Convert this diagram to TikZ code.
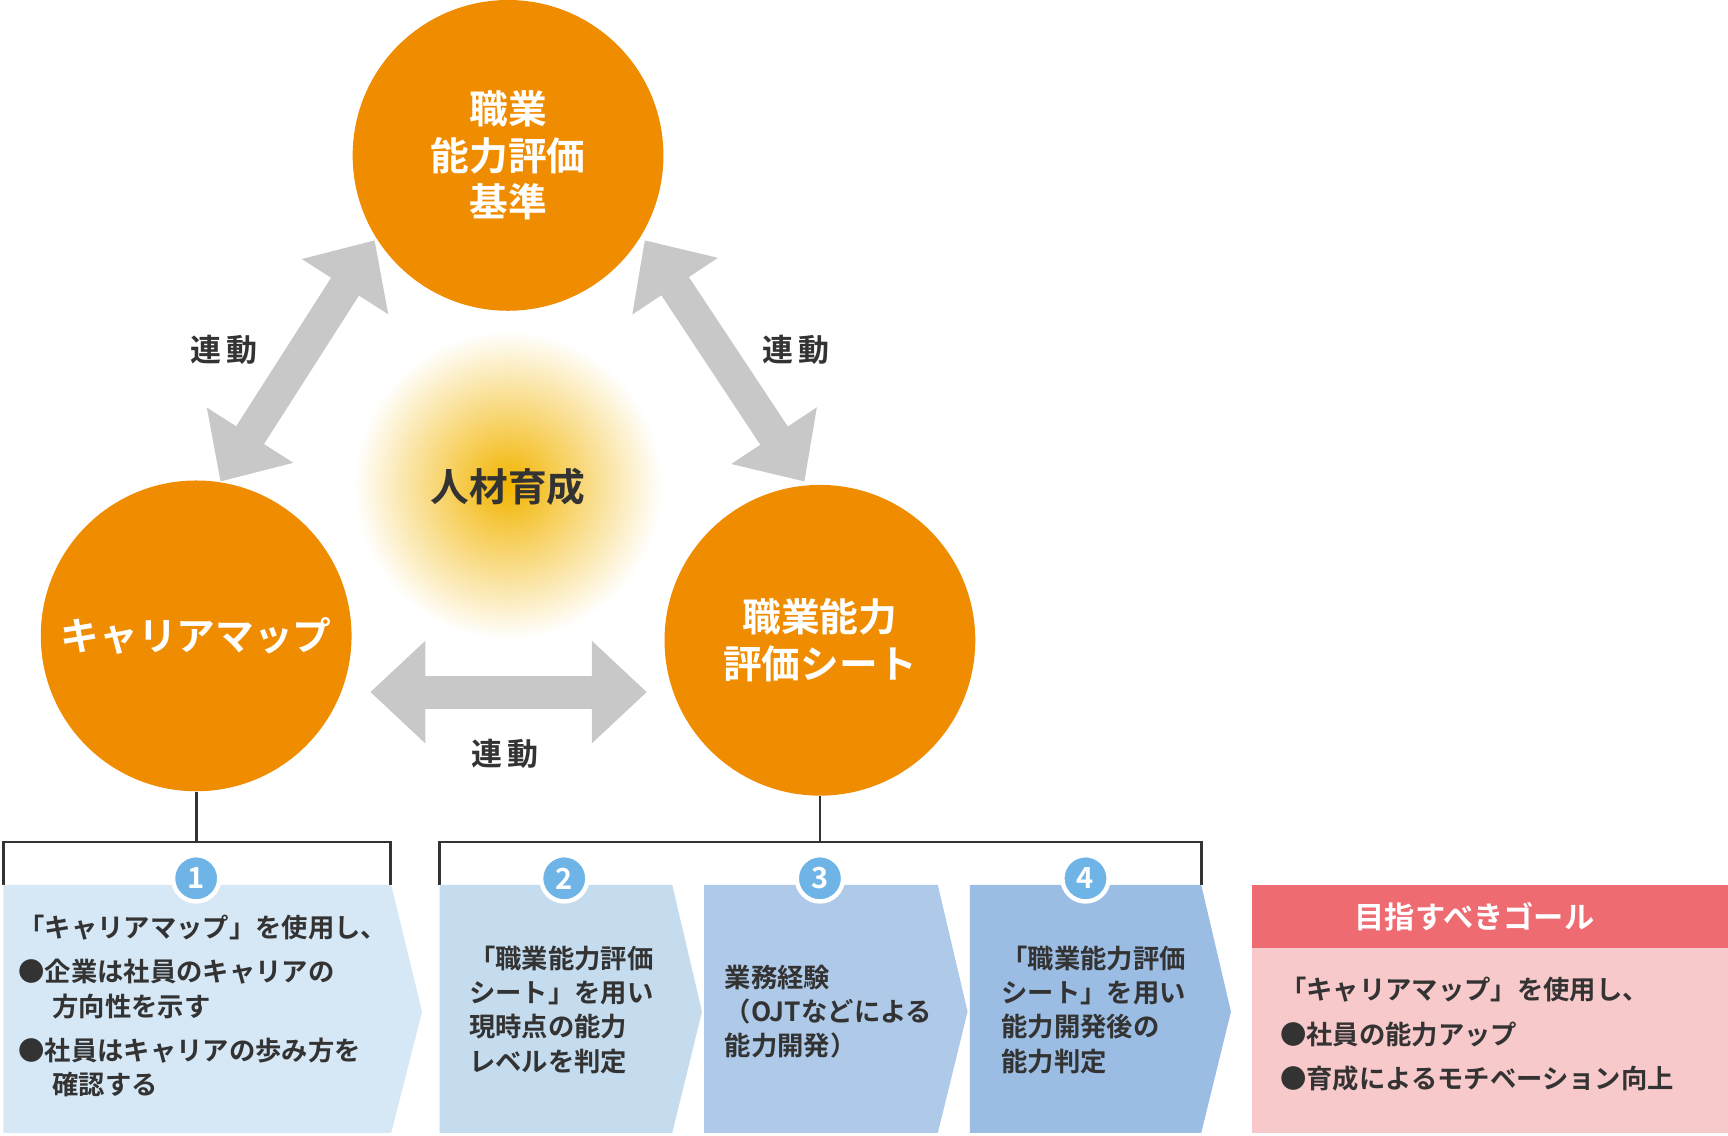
\documentclass[tikz,border=0pt]{standalone}
\usepackage{fontspec}
\setmainfont{Noto Sans CJK JP}[BoldFont={Noto Sans CJK JP Bold}]
\usetikzlibrary{arrows.meta, positioning}
\definecolor{orangec}{HTML}{F08C00}
\definecolor{glowc}{HTML}{F2B400}
\definecolor{grayarr}{HTML}{C8C8C8}
\definecolor{numc}{HTML}{6EB4E6}
\definecolor{boxa}{HTML}{D6E8F6}
\definecolor{boxb}{HTML}{C4DCEE}
\definecolor{boxc}{HTML}{AECAE8}
\definecolor{boxd}{HTML}{9BBCE3}
\definecolor{goalhead}{HTML}{EE6B72}
\definecolor{goalbody}{HTML}{F8C9CB}
\definecolor{textc}{HTML}{333333}

\begin{document}
\begin{tikzpicture}[
    x=0.1mm, y=-0.1mm,
    bigcircle/.style={circle, fill=orangec, minimum size=28.2mm, inner sep=0pt, text=white, align=center, font=\fontsize{10}{12}\selectfont\bfseries},
    link/.style={{Triangle[length=5mm,width=9mm]}-{Triangle[length=5mm,width=9mm]}, line width=3mm, draw=grayarr},
    linklabel/.style={text=textc, font=\fontsize{8}{9}\selectfont\bfseries},
    num/.style={circle, fill=numc, draw=white, line width=0.4mm, minimum size=4.2mm, inner sep=0pt, text=white, font=\fontsize{7.5}{8}\selectfont\bfseries},
    steptext/.style={anchor=north west, align=left, text=textc, inner sep=0pt, font=\fontsize{6.8}{8.8}\selectfont\bfseries},
    bracket/.style={draw=textc, line width=0.25mm}
]
\useasboundingbox (0,0) rectangle (1568,1030);

% Glow in the centre
\shade[inner color=glowc, outer color=white] (461,440) circle (140);
\node[text=textc, font=\fontsize{10}{12}\selectfont\bfseries] (core) at (461,442) {人材育成};

% Three pillars
\node[bigcircle] (standard) at (461,141) {職業\\能力評価\\基準};
\node[bigcircle] (map) at (178,577) {キャリアマップ};
\node[bigcircle] (sheet) at (744,581) {職業能力\\評価シート};

% Links
\coordinate (l1) at (200,437);
\coordinate (l2) at (340,218);
\coordinate (r1) at (585,218);
\coordinate (r2) at (730,437);
\coordinate (b1) at (336,628);
\coordinate (b2) at (587,628);
\draw[link] (l1) -- (l2);
\draw[link] (r1) -- (r2);
\draw[link] (b1) -- (b2);
\node[linklabel] (lab1) at (203,317) {連\,動};
\node[linklabel] (lab2) at (722,317) {連\,動};
\node[linklabel] (lab3) at (458,684) {連\,動};

% Brackets
\coordinate (mapfoot) at (178,764);
\coordinate (sheetfoot) at (744,764);
\draw[bracket] (map.south) -- (mapfoot);
\draw[bracket] (3,803) -- (3,764) -- (354,764) -- (354,803);
\draw[bracket] (sheet.south) -- (sheetfoot);
\draw[bracket] (399,803) -- (399,764) -- (1090,764) -- (1090,803);

% Step chevrons
\fill[boxa] (3,803) -- (355,803) -- (383,918) -- (355,1028) -- (3,1028) -- cycle;
\fill[boxb] (399,803) -- (610,803) -- (637,918) -- (610,1028) -- (399,1028) -- cycle;
\fill[boxc] (639,803) -- (851,803) -- (878,918) -- (851,1028) -- (639,1028) -- cycle;
\fill[boxd] (880,803) -- (1090,803) -- (1117,918) -- (1090,1028) -- (880,1028) -- cycle;

\node[num] (n1) at (178,797) {1};
\node[num] (n2) at (512,797) {2};
\node[num] (n3) at (744,797) {3};
\node[num] (n4) at (985,797) {4};

\node[steptext] (t1) at (16,830) {「キャリアマップ」を使用し、\\[0.9mm]●企業は社員のキャリアの\\\hspace{1.3em}方向性を示す\\[0.9mm]●社員はキャリアの歩み方を\\\hspace{1.3em}確認する};
\node[steptext] (t2) at (425,858) {「職業能力評価\\シート」を用い\\現時点の能力\\レベルを判定};
\node[steptext] (t3) at (657,875) {業務経験\\（OJTなどによる\\能力開発）};
\node[steptext] (t4) at (908,858) {「職業能力評価\\シート」を用い\\能力開発後の\\能力判定};

% Goal
\fill[goalhead] (1136,803) rectangle (1568,860);
\fill[goalbody] (1136,860) rectangle (1568,1028);
\node[text=white, font=\fontsize{7.8}{9}\selectfont\bfseries] (goal) at (1338,832) {目指すべきゴール};
\node[steptext, font=\fontsize{6.8}{11.5}\selectfont\bfseries] (t5) at (1161,886) {「キャリアマップ」を使用し、\\●社員の能力アップ\\●育成によるモチベーション向上};

\end{tikzpicture}
\end{document}
